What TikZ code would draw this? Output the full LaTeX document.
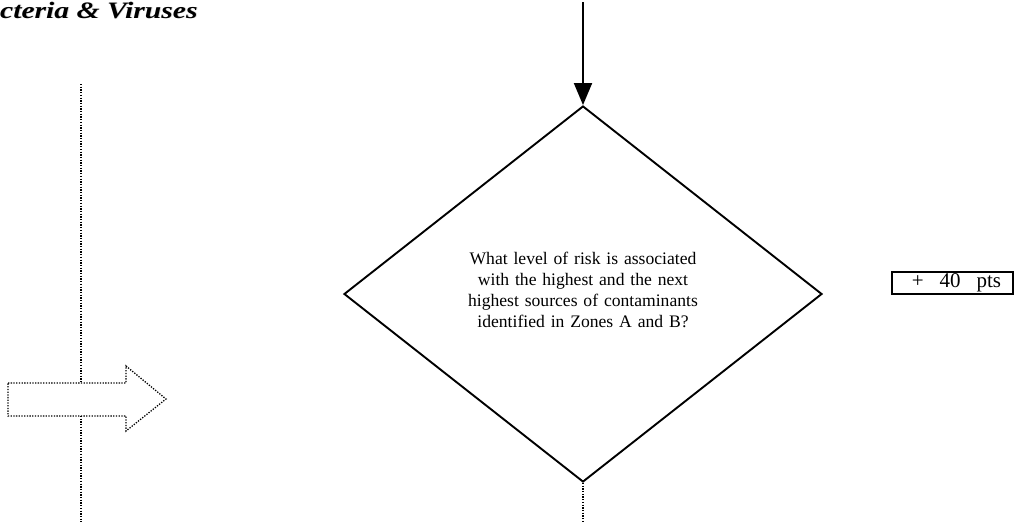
\documentclass[tikz,border=0pt]{standalone}
\usepackage{fontspec}
\usepackage{graphicx}
\setmainfont{Liberation Serif}
\usetikzlibrary{arrows.meta,shapes.geometric}
\begin{document}
\begin{tikzpicture}[x=1pt,y=-1pt,
  solidline/.style={line width=1.9pt,black},
  dotline/.style={line width=1.3pt,black,dash pattern=on 1.3pt off 1.4pt},
  qtext/.style={text width=260pt,align=center,inner sep=0pt,font=\fontsize{17.6}{21}\selectfont},
  ptsbox/.style={draw,line width=2.2pt,minimum width=121pt,minimum height=22pt,inner sep=0pt,font=\fontsize{21}{22}\selectfont},
  titletext/.style={anchor=base west,inner sep=0pt,font=\fontsize{23.5}{26}\selectfont\bfseries\itshape}
]
\useasboundingbox (0,0) rectangle (1015,522);
% title with faint shadow
\node[titletext,text=black!15] (titleshadow) at (1,19) {\scalebox{1.26}[1]{cteria \& Viruses}};
\node[titletext] (title) at (0,18) {\scalebox{1.26}[1]{cteria \& Viruses}};
% diamond
\node[diamond,draw,solidline,minimum width=478pt,minimum height=376pt,aspect=1.27,inner sep=0pt] (d) at (583,294) {};
\node[qtext] (q) at (583,290) {What level of risk is associated\\with the highest and the next\\highest sources of contaminants\\identified in Zones A and B?};
% incoming arrow
\coordinate (topin) at (583,2);
\draw[solidline,-{Triangle[width=18pt,length=22pt]}] (topin) -- (d.north);
% outgoing dotted
\coordinate (botout) at (583,522);
\draw[dotline] (d.south) -- (botout);
% points box
\node[ptsbox] (pts) at (952.5,283) {\hspace{8pt}+\hspace{16pt}40\hspace{16pt}pts};
% left dotted line and block arrow
\coordinate (ltop) at (81,84);
\coordinate (la) at (81,383);
\coordinate (lb) at (81,416);
\coordinate (lbot) at (81,522);
\draw[dotline] (ltop) -- (la);
\draw[dotline] (lb) -- (lbot);
\coordinate (a1) at (8,383);
\coordinate (a2) at (126,383);
\coordinate (a3) at (126,366);
\coordinate (a4) at (166,399);
\coordinate (a5) at (126,431);
\coordinate (a6) at (126,416);
\coordinate (a7) at (8,416);
\draw[dotline] (a1) -- (a2) -- (a3) -- (a4) -- (a5) -- (a6) -- (a7) -- cycle;
\end{tikzpicture}
\end{document}
